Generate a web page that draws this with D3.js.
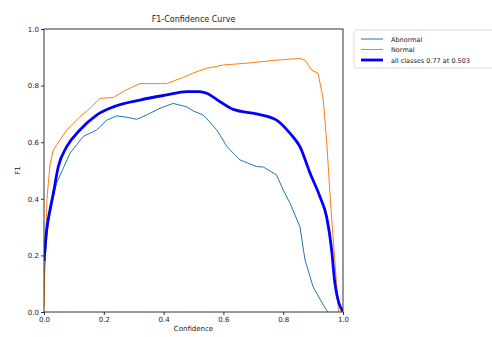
<!DOCTYPE html>
<html><head><meta charset="utf-8">
<script src="https://cdn.jsdelivr.net/npm/d3@7"></script>
<style>body{margin:0;background:#fff}svg{display:block}text{font-family:"DejaVu Sans",sans-serif}</style>
</head><body>
<script>
const title = "F1-Confidence Curve";
const xLabel = "Confidence";
const yLabel = "F1";
const ticks = [0, 0.2, 0.4, 0.6, 0.8, 1.0];
const seriesNames = ["Abnormal", "Normal", "all classes 0.77 at 0.503"];

const abnormalX = [0, 0.01, 0.025, 0.042, 0.087, 0.131, 0.176, 0.21, 0.243, 0.277, 0.31, 0.343, 0.388, 0.432, 0.477, 0.5, 0.533, 0.578, 0.612, 0.656, 0.711, 0.734, 0.778, 0.8, 0.823, 0.856, 0.873, 0.9, 0.94, 0.95];
const abnormalY = [0.12, 0.28, 0.38, 0.455, 0.561, 0.62, 0.643, 0.678, 0.693, 0.688, 0.681, 0.696, 0.72, 0.737, 0.725, 0.71, 0.696, 0.643, 0.584, 0.537, 0.514, 0.512, 0.484, 0.431, 0.384, 0.301, 0.184, 0.089, 0.014, 0.0];

const normalX = [0, 0.004, 0.01, 0.02, 0.031, 0.076, 0.12, 0.154, 0.187, 0.232, 0.277, 0.321, 0.366, 0.41, 0.466, 0.5, 0.544, 0.6, 0.678, 0.767, 0.856, 0.873, 0.895, 0.917, 0.934, 0.945, 0.96, 0.975, 0.985];
const normalY = [0.02, 0.2, 0.4, 0.52, 0.572, 0.643, 0.69, 0.72, 0.755, 0.758, 0.786, 0.807, 0.807, 0.807, 0.829, 0.845, 0.861, 0.873, 0.879, 0.889, 0.896, 0.89, 0.855, 0.843, 0.749, 0.608, 0.36, 0.15, 0.0];

const allX = [0, 0.01, 0.02, 0.029, 0.048, 0.076, 0.12, 0.176, 0.232, 0.321, 0.41, 0.477, 0.522, 0.544, 0.589, 0.633, 0.711, 0.778, 0.823, 0.856, 0.89, 0.923, 0.945, 0.962, 0.973, 1.0];
const allY = [0.18, 0.3, 0.36, 0.407, 0.514, 0.584, 0.643, 0.696, 0.725, 0.749, 0.767, 0.779, 0.779, 0.773, 0.743, 0.716, 0.70, 0.678, 0.631, 0.584, 0.49, 0.407, 0.337, 0.219, 0.101, 0.0];

const W = 492, H = 337;
const m = {left: 44, right: 343, top: 29, bottom: 312};
const svg = d3.select("body").append("svg").attr("width", W).attr("height", H);
const x = d3.scaleLinear().domain([0, 1]).range([m.left, m.right]);
const y = d3.scaleLinear().domain([0, 1]).range([m.bottom, m.top]);

const series = [
  {name: seriesNames[0], xs: abnormalX, ys: abnormalY, color: "#1f77b4", w: 1, curve: d3.curveLinear},
  {name: seriesNames[1], xs: normalX, ys: normalY, color: "#ff7f0e", w: 1, curve: d3.curveLinear},
  {name: seriesNames[2], xs: allX, ys: allY, color: "#0000ff", w: 2.8, curve: d3.curveMonotoneX}
];

svg.append("clipPath").attr("id", "c").append("rect")
  .attr("x", m.left).attr("y", m.top).attr("width", m.right - m.left).attr("height", m.bottom - m.top);

const g = svg.append("g").attr("clip-path", "url(#c)");
series.forEach(s => {
  const line = d3.line().x(d => x(d[0])).y(d => y(d[1])).curve(s.curve);
  g.append("path").datum(s.xs.map((v, i) => [v, s.ys[i]]))
    .attr("d", line).attr("fill", "none").attr("stroke", s.color)
    .attr("stroke-width", s.w).attr("stroke-linejoin", "round");
});

const fmt = d3.format(".1f");
const xa = svg.append("g").attr("transform", `translate(0,${m.bottom})`)
  .call(d3.axisBottom(x).tickValues(ticks).tickFormat(fmt).tickSize(3).tickPadding(2));
const ya = svg.append("g").attr("transform", `translate(${m.left},0)`)
  .call(d3.axisLeft(y).tickValues(ticks).tickFormat(fmt).tickSize(3).tickPadding(2));
[xa, ya].forEach(a => {
  a.select(".domain").remove();
  a.selectAll("text").attr("font-size", 7).attr("fill", "#222").style("font-family", "DejaVu Sans");
  a.selectAll("line").attr("stroke", "#333");
});

svg.append("rect").attr("x", m.left).attr("y", m.top)
  .attr("width", m.right - m.left).attr("height", m.bottom - m.top)
  .attr("fill", "none").attr("stroke", "#333").attr("stroke-width", 1);

svg.append("text").attr("x", (m.left + m.right) / 2).attr("y", 22)
  .attr("text-anchor", "middle").attr("font-size", 8).attr("fill", "#222").text(title);
svg.append("text").attr("x", (m.left + m.right) / 2).attr("y", 331)
  .attr("text-anchor", "middle").attr("font-size", 7).attr("fill", "#222").text(xLabel);
svg.append("text").attr("transform", `translate(20,${(m.top + m.bottom) / 2}) rotate(-90)`)
  .attr("text-anchor", "middle").attr("font-size", 7).attr("fill", "#222").text(yLabel);

const lg = svg.append("g");
lg.append("rect").attr("x", 354).attr("y", 30).attr("width", 150).attr("height", 38)
  .attr("fill", "#fff").attr("stroke", "#ddd").attr("rx", 2);
series.forEach((s, i) => {
  const yy = 39 + i * 10.5;
  lg.append("line").attr("x1", 361).attr("x2", 383).attr("y1", yy).attr("y2", yy)
    .attr("stroke", s.color).attr("stroke-width", s.w);
  lg.append("text").attr("x", 391).attr("y", yy + 2.5).attr("font-size", 6.5)
    .attr("fill", "#222").text(s.name);
});
</script>
</body></html>
